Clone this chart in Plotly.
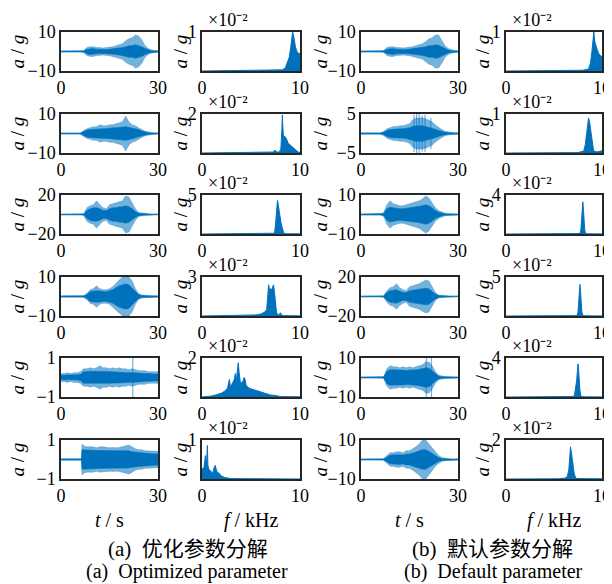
import plotly.graph_objects as go

# page body has an 8px margin, so the figure is drawn 8px smaller and
# all reference pixel positions are shifted by that offset
OFF = 8
W, H = 612 - OFF, 584 - OFF

# ---------------- data: time-domain envelopes (a/g) ----------------
t_sec = list(range(31))

# (a) optimized parameter, column 1
pk_a1 = [0.3,0.3,0.3,0.3,0.3,0.3,0.3,0.5,2.0,2.5,2.5,2.0,2.0,1.8,2.0,2.2,2.5,3.0,3.5,4.0,5.5,6.5,7.0,8.5,8.0,6.0,3.0,1.5,0.8,0.5,0.4]
co_a1 = [0.2,0.2,0.2,0.2,0.2,0.2,0.2,0.3,1.2,1.5,1.5,1.2,1.0,1.0,1.0,1.2,1.3,1.5,1.8,2.0,2.5,3.0,3.0,3.5,3.0,2.5,1.5,0.8,0.4,0.3,0.2]
pk_a2 = [0.3,0.3,0.3,0.3,0.3,0.3,0.3,1.5,2.5,3.0,3.5,3.5,4.5,4.0,4.0,4.5,4.5,5.0,5.5,6.0,9.0,6.0,4.5,4.0,3.0,2.0,1.2,0.8,0.5,0.3,0.3]
co_a2 = [0.2,0.2,0.2,0.2,0.2,0.2,0.2,1.0,1.8,2.0,2.2,2.2,2.5,2.5,2.5,2.8,3.0,3.0,3.2,3.3,3.5,3.2,2.8,2.5,2.0,1.3,0.8,0.5,0.3,0.2,0.2]
pk_a3 = [0.5,0.5,0.5,0.5,0.5,0.5,0.5,0.8,7,9,10,14,10,7,6,10,11,12,13,14,19,18,12,6,2,1.5,1,0.8,0.6,0.5,0.5]
co_a3 = [0.3,0.3,0.3,0.3,0.3,0.3,0.3,0.5,4,6,7,7,6,4,4,6,7,7,8,8,9,8,6,3,1.2,0.8,0.5,0.4,0.3,0.3,0.3]
pk_a4 = [0.4,0.4,0.4,0.4,0.4,0.4,0.4,0.5,1.5,3.5,4,5.5,4,3.5,3.5,4,5,7,8.5,10,10,10,8,4,1.5,0.8,0.6,0.5,0.4,0.4,0.4]
co_a4 = [0.2,0.2,0.2,0.2,0.2,0.2,0.2,0.3,1,2.5,2.8,3,2.8,2.5,2.5,3,3.5,4.5,5.5,6,6.5,6,4.5,2.5,1,0.5,0.3,0.3,0.2,0.2,0.2]
pk_a5 = [0.2,0.2,0.25,0.2,0.25,0.25,0.3,0.45,0.45,0.5,0.45,0.5,0.6,0.5,0.5,0.45,0.5,0.45,0.5,0.45,0.45,0.4,0.45,0.4,0.35,0.35,0.35,0.3,0.3,0.3,0.3]
co_a5 = [0.12,0.12,0.12,0.12,0.12,0.12,0.15,0.3,0.32,0.32,0.32,0.32,0.32,0.3,0.3,0.3,0.3,0.28,0.28,0.28,0.26,0.25,0.25,0.24,0.22,0.22,0.2,0.2,0.18,0.18,0.18]
t_a6 = [0,6.3,6.5,7,8,9,10,11,12,13,14,15,16,17,18,19,20,21,22,23,24,25,26,27,28,29,30]
pk_a6 = [0.04,0.04,0.8,0.7,0.65,0.65,0.65,0.6,0.65,0.65,0.62,0.6,0.62,0.6,0.62,0.65,0.7,0.75,0.65,0.55,0.5,0.5,0.45,0.45,0.45,0.42,0.42]
co_a6 = [0.03,0.03,0.5,0.5,0.48,0.48,0.48,0.46,0.46,0.46,0.45,0.45,0.45,0.44,0.44,0.44,0.45,0.45,0.4,0.38,0.36,0.35,0.33,0.32,0.3,0.3,0.28]

# (b) default parameter, column 3
pk_b1 = [0.3,0.3,0.3,0.3,0.3,0.3,0.3,0.5,2.0,2.5,2.5,2.0,2.0,1.8,2.0,2.2,2.5,3.0,3.5,4.0,5.0,6.5,7.0,8.5,8.5,6.0,3.0,1.5,0.8,0.5,0.4]
co_b1 = [0.2,0.2,0.2,0.2,0.2,0.2,0.2,0.3,1.2,1.5,1.5,1.2,1.0,1.0,1.0,1.2,1.3,1.5,1.8,2.0,2.4,3.0,3.0,3.5,3.2,2.5,1.5,0.8,0.4,0.3,0.2]
pk_b2 = [0.2,0.2,0.2,0.2,0.2,0.2,0.2,0.5,1.2,1.5,1.8,1.8,2.0,2.0,2.2,2.5,3.5,4.0,4.0,4.0,3.8,3.5,3.0,2.2,1.5,1.0,0.6,0.4,0.3,0.2,0.2]
co_b2 = [0.1,0.1,0.1,0.1,0.1,0.1,0.1,0.3,0.8,1.0,1.1,1.2,1.2,1.2,1.3,1.5,1.8,2.0,2.0,2.0,1.8,1.6,1.4,1.1,0.8,0.5,0.3,0.2,0.15,0.1,0.1]
pk_b3 = [0.3,0.3,0.3,0.3,0.3,0.3,0.3,1.0,5.0,7.0,5.5,5.0,4.5,4.5,5.0,5.5,6.0,6.5,7.0,8.0,9.5,8.5,6.0,3.5,2.0,1.2,0.7,0.5,0.4,0.3,0.3]
co_b3 = [0.2,0.2,0.2,0.2,0.2,0.2,0.2,0.5,3.0,3.8,3.5,3.2,3.0,3.0,3.2,3.5,3.8,4.0,4.2,4.5,5.0,4.5,3.5,2.0,1.2,0.7,0.4,0.3,0.2,0.2,0.2]
pk_b4 = [0.5,0.5,0.5,0.5,0.5,0.5,0.5,0.8,6,9,10,13,9,7,6,10,11,12,13,15,17,16,10,4,1.5,1,0.8,0.6,0.5,0.5,0.5]
co_b4 = [0.3,0.3,0.3,0.3,0.3,0.3,0.3,0.5,4,6,6.5,7,5.5,4,4,6,6.5,7,7.5,8,8.5,8,5.5,2.5,1,0.6,0.5,0.4,0.3,0.3,0.3]
pk_b5 = [0.3,0.3,0.3,0.3,0.3,0.3,0.3,0.5,4.5,6.0,5.5,5.5,5.0,5.5,5.0,5.5,5.0,5.5,6.0,6.5,8.0,8.0,6.0,3.0,1.2,0.8,0.5,0.4,0.3,0.3,0.3]
co_b5 = [0.2,0.2,0.2,0.2,0.2,0.2,0.2,0.3,3.2,4.0,4.0,3.8,3.8,3.8,3.6,3.8,3.8,4.0,4.2,4.5,5.0,4.8,3.5,1.8,0.8,0.4,0.3,0.2,0.2,0.2,0.2]
pk_b6 = [0.3,0.3,0.3,0.3,0.3,0.3,0.3,0.4,2.0,3.5,3.5,4.0,4.0,3.5,4.5,4.5,5.5,6.5,8.0,10,10,8.0,6.0,3.5,2.0,1.0,0.6,0.4,0.3,0.3,0.3]
co_b6 = [0.2,0.2,0.2,0.2,0.2,0.2,0.2,0.3,1.2,2.2,2.4,2.5,2.5,2.3,2.8,2.8,3.2,3.8,4.5,5.0,5.0,4.2,3.2,2.0,1.0,0.5,0.3,0.2,0.2,0.2,0.2]

# isolated spikes (time s, amplitude)
sp_t_a5 = [22.2]
sp_v_a5 = [1.0]
sp_t_b2 = [16.4, 17.2, 18.0, 18.9, 19.8, 21.6]
sp_v_b2 = [4.8, 5.0, 5.0, 4.6, 4.8, 4.0]
sp_t_b5 = [20.2, 21.8]
sp_v_b5 = [10.0, 10.0]

# y-axis limits of time plots
lim_a = [10, 10, 20, 10, 1, 1]
lim_b = [10, 5, 10, 20, 10, 10]

# ---------------- data: spectra (x10^-2) ----------------
f_a1 = [0,6.8,7.5,8.2,8.5,8.7,8.9,9.05,9.15,9.25,9.35,9.45,9.55,9.7,9.85,10]
s_a1 = [0,0.01,0.03,0.03,0.08,0.2,0.35,0.6,0.8,1.0,0.9,0.7,0.6,0.5,0.45,0.45]
f_a2 = [0,6.0,7.0,7.3,7.45,7.6,7.9,8.05,8.15,8.2,8.25,8.3,8.45,8.6,8.8,9.0,9.2,9.5,9.8,10]
s_a2 = [0,0.01,0.03,0.05,0.15,0.05,0.05,0.2,1.2,1.95,1.3,0.9,0.85,0.75,0.5,0.4,0.3,0.2,0.05,0.03]
f_a3 = [0,7.0,7.4,7.5,7.6,7.7,7.75,7.85,7.95,8.05,8.15,8.25,8.35,8.6,10]
s_a3 = [0,0.02,0.1,1.2,3.2,4.3,4.0,3.0,2.2,1.5,1.0,0.5,0.1,0.03,0.02]
f_a4 = [0,4.5,5.5,6.0,6.4,6.6,6.7,6.8,6.9,7.0,7.1,7.2,7.3,7.4,7.5,7.6,7.7,7.9,8.0,8.1,8.3,9.0,10]
s_a4 = [0,0.02,0.08,0.15,0.3,0.5,1.8,2.4,2.0,2.1,2.0,2.2,2.4,1.8,0.8,0.3,0.1,0.1,0.25,0.1,0.03,0.02,0.01]
f_a5 = [0,0.5,1.0,1.5,2.0,2.3,2.6,2.8,2.9,3.1,3.3,3.4,3.5,3.6,3.7,3.8,3.9,4.1,4.3,4.4,4.5,4.8,5.1,5.5,6.0,6.5,7.0,7.5,8.0,10]
s_a5 = [0,0.02,0.05,0.12,0.2,0.3,0.45,0.9,0.5,0.7,0.9,1.2,0.8,1.3,1.75,1.2,0.8,0.7,1.0,0.9,0.6,0.45,0.4,0.35,0.25,0.15,0.1,0.08,0.02,0.01]
f_a6 = [0,0.2,0.35,0.45,0.55,0.6,0.7,0.9,1.1,1.25,1.35,1.5,1.7,2.0,2.3,2.6,3.0,10]
s_a6 = [0.25,0.3,0.6,0.3,0.86,0.35,0.25,0.2,0.15,0.3,0.35,0.2,0.15,0.08,0.04,0.02,0.01,0.0]

f_b1 = [0,6.5,8.0,8.6,8.8,8.95,9.05,9.15,9.25,9.35,9.5,9.65,9.8,10]
s_b1 = [0,0.01,0.02,0.05,0.2,0.5,0.85,1.0,0.75,0.65,0.55,0.45,0.4,0.35]
f_b2 = [0,7.5,8.1,8.25,8.4,8.5,8.6,8.7,8.8,8.9,9.0,9.1,9.2,9.5,9.9,10]
s_b2 = [0,0.01,0.05,0.2,0.5,0.75,0.9,0.8,0.6,0.4,0.2,0.1,0.04,0.03,0.05,0.06]
f_b3 = [0,7.0,7.7,7.8,7.9,7.95,8.0,8.05,8.1,8.2,8.3,8.5,10]
s_b3 = [0,0.01,0.05,0.4,1.5,2.8,3.3,2.8,1.5,0.4,0.05,0.02,0.01]
f_b4 = [0,6.8,7.4,7.5,7.6,7.65,7.7,7.75,7.8,7.9,8.0,8.3,10]
s_b4 = [0,0.01,0.05,0.5,2.0,3.3,4.05,3.4,2.0,0.5,0.08,0.02,0.01]
f_b5 = [0,6.5,7.05,7.15,7.25,7.35,7.45,7.5,7.55,7.6,7.7,7.8,8.0,10]
s_b5 = [0,0.01,0.05,0.3,0.8,1.6,2.8,3.4,3.0,2.0,0.7,0.1,0.02,0.01]
f_b6 = [0,5.5,6.2,6.4,6.55,6.65,6.72,6.8,6.9,7.0,7.1,7.25,7.5,10]
s_b6 = [0,0.01,0.05,0.15,0.5,1.3,1.65,1.4,1.0,0.6,0.3,0.05,0.02,0.01]

smax_a = [1, 2, 5, 3, 2, 1]
smax_b = [1, 1, 4, 5, 4, 2]

time_ticks = [0, 30]
freq_ticks = [0, 10]
xlabel_t = "<i>t</i> / s"
xlabel_f = "<i>f</i> / kHz"
ylabel = "<i>a</i> / <i>g</i>"
exp_label = "×10⁻²"
cap_a_cn = "(a)  优化参数分解"
cap_a_en = "(a)  Optimized parameter"
cap_b_cn = "(b)  默认参数分解"
cap_b_en = "(b)  Default parameter"

# ---------------- layout geometry (reference pixels) ----------------
col_px = [(61, 158), (202, 300), (361, 458), (506, 602)]
row_top = [32, 114, 195, 277, 358, 440]
row_h = 39
ylab_x = [17, 180, 320, 482]

FONT = "Liberation Serif, Times New Roman, Noto Sans CJK SC, serif"
BLUE = "#0072BD"
LIGHT = "rgba(0,114,189,0.55)"
AXC = "#262626"

def px2x(p):
    return (p - OFF) / W

def px2y(p):
    return 1 - (p - OFF) / H

fig = go.Figure()
layout = {}
annotations = []

time_a = [(t_sec, pk_a1, co_a1), (t_sec, pk_a2, co_a2), (t_sec, pk_a3, co_a3),
          (t_sec, pk_a4, co_a4), (t_sec, pk_a5, co_a5), (t_a6, pk_a6, co_a6)]
time_b = [(t_sec, pk_b1, co_b1), (t_sec, pk_b2, co_b2), (t_sec, pk_b3, co_b3),
          (t_sec, pk_b4, co_b4), (t_sec, pk_b5, co_b5), (t_sec, pk_b6, co_b6)]
spec_a = [(f_a1, s_a1), (f_a2, s_a2), (f_a3, s_a3), (f_a4, s_a4), (f_a5, s_a5), (f_a6, s_a6)]
spec_b = [(f_b1, s_b1), (f_b2, s_b2), (f_b3, s_b3), (f_b4, s_b4), (f_b5, s_b5), (f_b6, s_b6)]
spikes = {(0, 4): (sp_t_a5, sp_v_a5), (2, 1): (sp_t_b2, sp_v_b2), (2, 4): (sp_t_b5, sp_v_b5)}

def sym_poly(t, v):
    xs = list(t) + list(reversed(t))
    ys = list(v) + [-a for a in reversed(v)]
    return xs, ys

idx = 0
for r in range(6):
    for c in range(4):
        idx += 1
        xa = "xaxis" if idx == 1 else f"xaxis{idx}"
        ya = "yaxis" if idx == 1 else f"yaxis{idx}"
        xr = "x" if idx == 1 else f"x{idx}"
        yr = "y" if idx == 1 else f"y{idx}"
        x0, x1 = col_px[c]
        top = row_top[r]
        bot = top + row_h
        is_time = c in (0, 2)
        common = dict(showline=True, mirror=True, linecolor=AXC, linewidth=1.5,
                      ticks="", showgrid=False, zeroline=False, automargin=False,
                      tickfont=dict(family=FONT, size=18, color="#000"))
        if is_time:
            data = (time_a if c == 0 else time_b)[r]
            lim = (lim_a if c == 0 else lim_b)[r]
            t, pk, co = data
            xs, ys = sym_poly(t, pk)
            fig.add_trace(go.Scatter(x=xs, y=ys, fill="toself", fillcolor=LIGHT,
                                     line=dict(color=LIGHT, width=0.5), mode="lines",
                                     xaxis=xr, yaxis=yr, showlegend=False, hoverinfo="skip"))
            if (c, r) in spikes:
                st, sv = spikes[(c, r)]
                sx, sy = [], []
                for tt, vv in zip(st, sv):
                    sx += [tt, tt, None]
                    sy += [-vv, vv, None]
                fig.add_trace(go.Scatter(x=sx, y=sy, mode="lines",
                                         line=dict(color=LIGHT, width=1.2),
                                         xaxis=xr, yaxis=yr, showlegend=False, hoverinfo="skip"))
            xs, ys = sym_poly(t, co)
            fig.add_trace(go.Scatter(x=xs, y=ys, fill="toself", fillcolor=BLUE,
                                     line=dict(color=BLUE, width=0.5), mode="lines",
                                     xaxis=xr, yaxis=yr, showlegend=False, hoverinfo="skip"))
            layout[xa] = dict(domain=[px2x(x0), px2x(x1)], anchor=yr, range=[0, 30],
                              tickvals=time_ticks, ticktext=[str(v) for v in time_ticks], **common)
            layout[ya] = dict(domain=[px2y(bot), px2y(top)], anchor=xr, range=[-lim, lim],
                              tickvals=[-lim, lim], ticktext=[f"−{lim}", f"{lim}"], **common)
        else:
            f, s = (spec_a if c == 1 else spec_b)[r]
            m = (smax_a if c == 1 else smax_b)[r]
            fig.add_trace(go.Scatter(x=f, y=s, fill="tozeroy", fillcolor=BLUE,
                                     line=dict(color=BLUE, width=1), mode="lines",
                                     xaxis=xr, yaxis=yr, showlegend=False, hoverinfo="skip"))
            layout[xa] = dict(domain=[px2x(x0), px2x(x1)], anchor=yr, range=[0, 10],
                              tickvals=freq_ticks, ticktext=[str(v) for v in freq_ticks], **common)
            layout[ya] = dict(domain=[px2y(bot), px2y(top)], anchor=xr, range=[0, m],
                              tickvals=[m], ticktext=[str(m)], **common)
            annotations.append(dict(x=px2x(x0 + 4), y=px2y(top - 12), xref="paper", yref="paper",
                                    text=exp_label, showarrow=False, xanchor="left", yanchor="middle",
                                    font=dict(family=FONT, size=18, color="#000")))
        annotations.append(dict(x=px2x(ylab_x[c]), y=px2y((top + bot) / 2), xref="paper", yref="paper",
                                text=ylabel, showarrow=False, textangle=-90,
                                xanchor="center", yanchor="middle",
                                font=dict(family=FONT, size=19, color="#000")))

# bottom axis labels
for c, lab in enumerate([xlabel_t, xlabel_f, xlabel_t, xlabel_f]):
    x0, x1 = col_px[c]
    annotations.append(dict(x=px2x((x0 + x1) / 2), y=px2y(520), xref="paper", yref="paper",
                            text=lab, showarrow=False, xanchor="center", yanchor="middle",
                            font=dict(family=FONT, size=20, color="#000")))

for xc, txt, yc, fs in [(188, cap_a_cn, 549, 21), (187, cap_a_en, 571, 20),
                        (492, cap_b_cn, 549, 21), (493, cap_b_en, 571, 20)]:
    annotations.append(dict(x=px2x(xc), y=px2y(yc), xref="paper", yref="paper",
                            text=txt, showarrow=False, xanchor="center", yanchor="middle",
                            borderpad=0,
                            font=dict(family=FONT, size=fs, color="#000")))

fig.update_layout(width=W, height=H, margin=dict(l=0, r=0, t=0, b=0, autoexpand=False),
                  template="none",
                  paper_bgcolor="white", plot_bgcolor="white",
                  annotations=annotations, **layout)

fig.write_html("out.html")
